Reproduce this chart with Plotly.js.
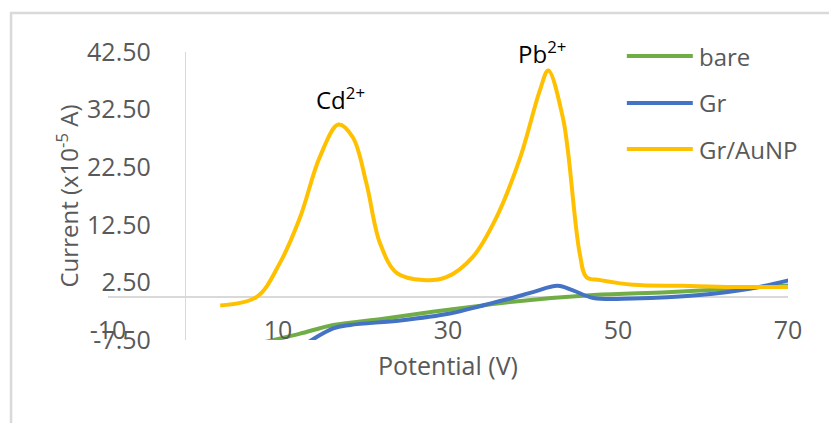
<!DOCTYPE html>
<html>
<head>
<meta charset="utf-8">
<script src="https://cdn.plot.ly/plotly-3.0.1.min.js"></script>
<style>html,body{margin:0;padding:0;background:#fff;}#chart{width:829px;height:423px;}</style>
</head>
<body>
<div id="chart"></div>
<script>
// Series names and colours
const seriesNames = ["bare", "Gr", "Gr/AuNP"];
const seriesColors = ["#70AD47", "#4472C4", "#FFC000"];

// bare electrode
const bareX = [7.5, 10, 12.6, 16.5, 22.4, 28.2, 34.1, 37.3, 47.1, 55.8, 63.5, 70.2];
const bareY = [-8.2, -7.3, -6.4, -4.9, -3.8, -2.6, -1.5, -0.9, 0.3, 0.8, 1.4, 2.0];

// Gr electrode
const grX = [12.8, 16.5, 18.5, 24.4, 30.2, 34.1, 37.3, 40.0, 42.9, 44.7, 47.1, 51.8, 59.6, 65.5, 70.2];
const grY = [-8.6, -5.5, -4.9, -4.1, -2.9, -1.5, -0.3, 0.8, 1.9, 1.1, -0.2, -0.3, 0.3, 1.4, 2.9];

// Gr/AuNP electrode
const auX = [3.2, 7.5, 10.2, 12.6, 14.9, 17.1, 18.8, 20.4, 22.0, 24.0, 27.1, 29.8, 32.9, 35.7, 38.5, 40.8, 41.8, 43.5, 44.1, 45.5, 46.3, 47.9, 51.8, 57.6, 63.5, 70.2];
const auY = [-1.5, 0.0, 5.8, 13.8, 24.2, 29.9, 27.7, 19.7, 9.3, 4.1, 2.9, 3.4, 6.9, 13.8, 24.2, 35.8, 39.3, 31.2, 25.4, 7.5, 3.4, 2.9, 2.1, 1.9, 1.7, 1.7];

// Axis ticks
const xTickVals = [-10, 10, 30, 50, 70];
const xTickText = ["-10", "10", "30", "50", "70"];
const yTickVals = [-7.5, 2.5, 12.5, 22.5, 32.5, 42.5];
const yTickText = ["-7.50", "2.50", "12.50", "22.50", "32.50", "42.50"];

// Peak labels
const peakLabels = ["Cd<sup>2+</sup>", "Pb<sup>2+</sup>"];
const peakX = [17.3, 41.1];
const peakY = [34.4, 42.4];

const FONT = "'Open Sans', 'Noto Sans', sans-serif";
const GREY = "#595959";

const xs = [bareX, grX, auX];
const ys = [bareY, grY, auY];
const traces = seriesNames.map((n, i) => ({
  type: "scatter", mode: "lines", name: n, x: xs[i], y: ys[i],
  line: {color: seriesColors[i], width: 4, shape: "spline", smoothing: 1.0},
  showlegend: false
}));

const shapes = [
  {type: "rect", xref: "paper", yref: "paper", x0: -0.1426, x1: 1.08, y0: -0.33, y1: 1.1354,
   line: {color: "#d9d9d9", width: 2.5}, fillcolor: "rgba(0,0,0,0)", layer: "below"}
];
const annotations = [];
const legY = [0.986, 0.823, 0.663];
seriesNames.forEach((n, i) => {
  shapes.push({type: "line", xref: "paper", yref: "paper", x0: 0.763, x1: 0.860, y0: legY[i], y1: legY[i],
    line: {color: seriesColors[i], width: 4}});
  annotations.push({xref: "paper", yref: "paper", x: 0.866, y: legY[i], xanchor: "left", yanchor: "middle",
    text: n, showarrow: false, font: {family: FONT, size: 24, color: GREY}});
});
peakLabels.forEach((t, i) => {
  annotations.push({x: peakX[i], y: peakY[i], xref: "x", yref: "y", text: t, showarrow: false,
    xanchor: "center", yanchor: "middle", font: {family: FONT, size: 24, color: "#000000"}});
});

const layout = {
  width: 829, height: 423,
  margin: {l: 108, r: 41, t: 52, b: 83, pad: 0},
  paper_bgcolor: "#ffffff", plot_bgcolor: "#ffffff",
  font: {family: FONT, color: GREY},
  xaxis: {
    range: [-10, 70], tickvals: xTickVals, ticktext: xTickText,
    anchor: "free", position: 0.094,
    showline: false, showgrid: false, zeroline: false, ticks: "",
    tickfont: {family: FONT, size: 25, color: GREY},
    title: {text: "Potential (V)", font: {family: FONT, size: 25, color: GREY}, standoff: 12}
  },
  yaxis: {
    range: [-7.5, 42.5], tickvals: yTickVals, ticktext: yTickText,
    anchor: "free", position: 0.113,
    showline: true, linecolor: "#d9d9d9", linewidth: 1.5,
    zeroline: true, zerolinecolor: "#d9d9d9", zerolinewidth: 1.5,
    showgrid: false, ticks: "", ticklabelstandoff: 29,
    tickfont: {family: FONT, size: 25, color: GREY},
    title: {text: "Current (x10<sup>-5</sup> A)", font: {family: FONT, size: 24, color: GREY}, standoff: 0}
  },
  shapes: shapes,
  annotations: annotations
};

Plotly.newPlot("chart", traces, layout, {displayModeBar: false, staticPlot: true});
</script>
</body>
</html>
